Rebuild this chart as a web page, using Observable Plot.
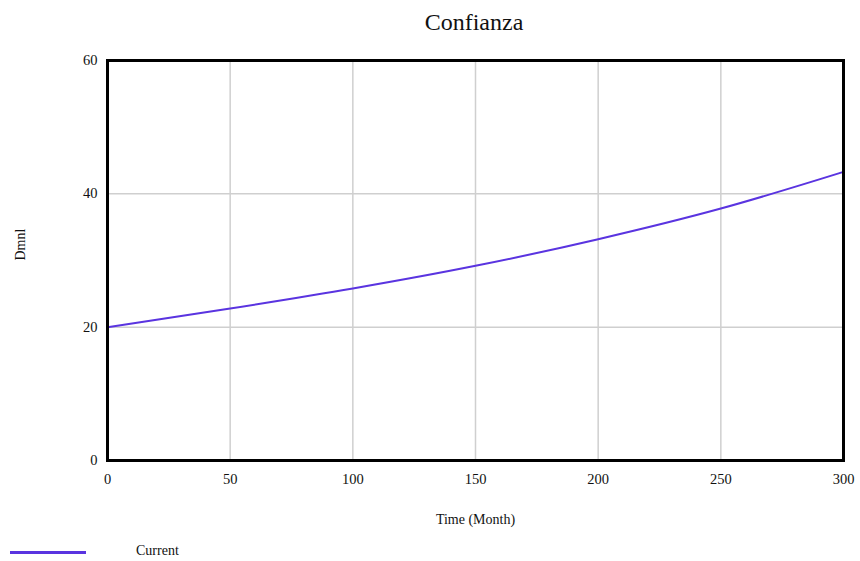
<!DOCTYPE html>
<html>
<head>
<meta charset="utf-8">
<script src="https://cdn.jsdelivr.net/npm/d3@7"></script>
<script src="https://cdn.jsdelivr.net/npm/@observablehq/plot@0.6"></script>
<style>
  html, body { margin: 0; padding: 0; background: #fff; }
  body { width: 860px; height: 561px; overflow: hidden; font-family: "Liberation Serif", "DejaVu Serif", serif; }
  #title { height: 44px; line-height: 44px; text-align: center; font-size: 24px; padding-left: 88px; box-sizing: border-box; color: #111; }
  #legend { position: absolute; left: 0; top: 541px; width: 860px; height: 24px; }
  #legend .sw { position: absolute; left: 10px; top: 10px; width: 76px; height: 2.5px; background: #5a34e0; }
  #legend .lb { position: absolute; left: 136px; top: 2px; font-size: 14px; color: #111; }
</style>
</head>
<body>
<div id="title">Confianza</div>
<div id="chart"></div>
<div id="legend"><div class="sw"></div><div class="lb">Current</div></div>
<script>
const time = [0, 50, 100, 150, 200, 250, 300];
const current = [20.0, 22.8, 25.8, 29.2, 33.2, 37.8, 43.3];
const xTicks = [0, 50, 100, 150, 200, 250, 300];
const yTicks = [0, 20, 40, 60];
const seriesName = "Current";

const data = time.map((t, i) => ({ time: t, value: current[i], series: seriesName }));

const chart = Plot.plot({
  width: 860,
  height: 490,
  marginLeft: 107,
  marginRight: 17,
  marginTop: 16,
  marginBottom: 74,
  style: { fontFamily: "Liberation Serif, serif", fontSize: "14px", color: "#111", background: "#fff" },
  x: { domain: [0, 300], ticks: xTicks, label: null },
  y: { domain: [0, 60], ticks: yTicks, label: null },
  marks: [
    Plot.gridX(xTicks, { stroke: "#cfcfcf", strokeOpacity: 1, strokeWidth: 1.5 }),
    Plot.gridY(yTicks, { stroke: "#cfcfcf", strokeOpacity: 1, strokeWidth: 1.5 }),
    Plot.axisX(xTicks, { tickSize: 0, tickPadding: 13, fontSize: 14.5 }),
    Plot.axisY(yTicks, { tickSize: 0, tickPadding: 10, fontSize: 14.5 }),
    Plot.line(data, { x: "time", y: "value", stroke: "#5a34e0", strokeWidth: 2, curve: "monotone-x" }),
    Plot.frame({ stroke: "#000", strokeWidth: 3 }),
    Plot.text(["Dmnl"], { frameAnchor: "left", dx: -87, rotate: -90, fontSize: 14, fill: "#111" }),
    Plot.text(["Time (Month)"], { frameAnchor: "bottom", dy: 63, fontSize: 14, fill: "#111" })
  ]
});
document.getElementById("chart").appendChild(chart);
</script>
</body>
</html>
